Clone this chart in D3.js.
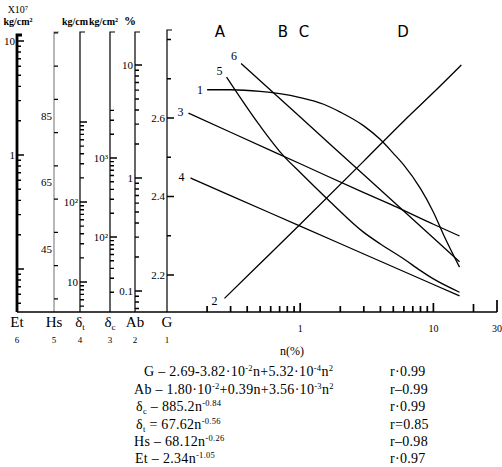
<!DOCTYPE html>
<html>
<head>
<meta charset="utf-8">
<script src="https://cdn.jsdelivr.net/npm/d3@7"></script>
<style>
  body { margin: 0; background: #fff; }
  svg { display: block; font-family: "Liberation Serif", "DejaVu Serif", serif; }
</style>
</head>
<body>
<svg id="chart" width="502" height="467"></svg>
<script>
// values (n in %)
const nG    = [0.2, 0.3, 0.5, 0.7, 1, 1.5, 2, 3, 4, 5, 6, 8, 10, 12, 15.7];
const gVal  = [2.672, 2.672, 2.668, 2.662, 2.652, 2.635, 2.615, 2.58, 2.545, 2.51, 2.48, 2.42, 2.36, 2.30, 2.22];
const nAb   = [0.27, 0.5, 1, 3, 6, 10, 16.2];
const abVal = [0.086, 0.175, 0.39, 1.41, 3.2, 5.7, 10];
const nDc   = [0.145, 0.3, 1, 3, 5, 10, 15.7];
const dcVal = [3700, 2120, 845, 365, 250, 145, 103];
const nDt   = [0.15, 0.3, 1, 3, 10, 15.7];
const dtVal = [200, 120, 50, 22.4, 9.3, 6.7];
const nHs   = [0.28, 0.5, 0.75, 1, 1.7, 3, 4, 6, 8, 10, 15.7];
const hsVal = [96.7, 82, 73, 68, 59, 50, 46.5, 42, 38.5, 36, 32];
const nEt   = [0.36, 1, 3, 10, 15.7];
const etVal = [6.35, 2.15, 0.67, 0.187, 0.116];

const axisNames = ["Et", "Hs", "δt", "δc", "Ab", "G"];
const axisNums  = ["6", "5", "4", "3", "2", "1"];
const etLabels = [1, 10];
const hsLabels = [45, 65, 85];
const dtLabels = [10, 100];
const dcLabels = [100, 1000];
const abLabels = [0.1, 1, 10];
const gLabels  = [2.2, 2.4, 2.6];
const xTicks   = [0.2,0.3,0.4,0.5,0.6,0.7,0.8,0.9,1,2,3,4,5,6,7,8,9,10,20,30];
const xLabels  = [1, 10, 30];
const zones    = ["A", "B", "C", "D"];

const svg = d3.select("#chart");
const base = 312;

// x: log n(%) from 0.1 (G axis) to 30
const x = d3.scaleLog().domain([0.1, 30]).range([167, 497]);

// build a scale from two read-off reference points, stretched to the axis length
function fitScale(kind, v1, y1, v2, y2, top) {
  const s = (kind === "log" ? d3.scaleLog() : d3.scaleLinear()).domain([v1, v2]).range([y1, y2]);
  return s.copy().domain([s.invert(base), s.invert(top)]).range([base, top]);
}
const yEt = fitScale("log", 1, 155, 10, 41, 35);
const yHs = fitScale("lin", 45, 249, 85, 116, 32);
const yDt = fitScale("log", 10, 282, 100, 202, 32);
const yDc = fitScale("log", 100, 237, 1000, 158, 32);
const yAb = fitScale("log", 0.1, 291, 10, 65, 32);
const yG  = fitScale("lin", 2.2, 275, 2.6, 118, 30);

function logTicks(s) {
  const [a, b] = s.domain(), out = [];
  for (let e = Math.floor(Math.log10(a)); e <= Math.ceil(Math.log10(b)); e++)
    for (let m = 1; m <= 9; m++) {
      const v = +(m * Math.pow(10, e)).toPrecision(3);
      if (v >= a && v <= b) out.push(v);
    }
  return out;
}
function linTicks(s, step) {
  const [a, b] = s.domain(), out = [];
  for (let v = Math.ceil(a / step) * step; v <= b; v += step) out.push(+v.toFixed(3));
  return out;
}
const isDecade = d => Math.abs(Math.log10(d) - Math.round(Math.log10(d))) < 1e-6;
const supFmt = d => d === 100 ? "10²" : d === 1000 ? "10³" : String(d);

const axes = [
  {x: 17,  s: yEt, ticks: logTicks(yEt), labels: etLabels, major: isDecade, w: 2.8, fmt: String},
  {x: 54,  s: yHs, ticks: linTicks(yHs, 10), labels: hsLabels, major: d => hsLabels.includes(d), w: 1.2, color: "#888", fmt: String},
  {x: 80,  s: yDt, ticks: logTicks(yDt).filter(d => d <= 1000), labels: dtLabels, major: isDecade, w: 1.2, fmt: supFmt},
  {x: 110, s: yDc, ticks: logTicks(yDc).filter(d => d <= 4000), labels: dcLabels, major: isDecade, w: 1.2, fmt: supFmt},
  {x: 135, s: yAb, ticks: logTicks(yAb), labels: abLabels, major: isDecade, w: 1.2, fmt: String},
  {x: 167, s: yG,  ticks: linTicks(yG, 0.1), labels: gLabels, major: d => gLabels.includes(d), w: 1.2, fmt: String}
];

axes.forEach((a, i) => {
  const g = svg.append("g");
  const [y0, y1] = a.s.range();
  // axis line with a small cap at the top
  g.append("path").attr("d", `M${a.x},${y0}V${y1}h5`)
    .attr("fill", "none").attr("stroke", a.color || "#000").attr("stroke-width", a.w);
  // ticks pointing right, longer at labelled values
  g.append("path")
    .attr("d", a.ticks.map(d => `M${a.x},${a.s(d).toFixed(1)}h${a.major(d) ? 7 : 4}`).join(""))
    .attr("fill", "none").attr("stroke", "#000").attr("stroke-width", 1.4);
  g.selectAll("text").data(a.labels).join("text")
    .attr("x", a.x - 2).attr("y", d => a.s(d)).attr("dy", "0.35em")
    .attr("text-anchor", "end").attr("font-size", 11).text(a.fmt);

  const nm = svg.append("text").attr("x", a.x).attr("y", 327).attr("text-anchor", "middle").attr("font-size", 15);
  if (axisNames[i].startsWith("δ")) {
    nm.append("tspan").text("δ");
    nm.append("tspan").attr("font-size", 9).attr("dy", 3).text(axisNames[i].slice(1));
  } else nm.text(axisNames[i]);
  svg.append("text").attr("x", a.x).attr("y", 343).attr("text-anchor", "middle")
    .attr("font-size", 9).text(axisNums[i]);
});

// headers over left axes
svg.append("text").attr("x", 18).attr("y", 13).attr("text-anchor", "middle").attr("font-size", 10).text("X10⁷");
svg.append("text").attr("x", 18).attr("y", 25).attr("text-anchor", "middle").attr("font-size", 10).attr("font-weight", "bold").text("kg/cm²");
svg.append("text").attr("x", 62).attr("y", 25).attr("font-size", 10).attr("font-weight", "bold").text("kg/cm");
svg.append("text").attr("x", 89).attr("y", 25).attr("font-size", 10).attr("font-weight", "bold").text("kg/cm²");
svg.append("text").attr("x", 124).attr("y", 25).attr("font-size", 12).attr("font-weight", "bold").text("%");

// baseline and n axis
svg.append("line").attr("x1", 17).attr("x2", 497).attr("y1", base).attr("y2", base)
  .attr("stroke", "#000").attr("stroke-width", 1.6);
svg.append("path")
  .attr("d", xTicks.map(d => `M${x(d).toFixed(1)},${base}v-${d === 30 ? 12 : d === 20 ? 8 : isDecade(d) ? 9 : 6}`).join(""))
  .attr("fill", "none").attr("stroke", "#000").attr("stroke-width", 1.7);
svg.selectAll(".xlab").data(xLabels).join("text").attr("class", "xlab")
  .attr("x", d => x(d)).attr("y", 332).attr("text-anchor", "middle").attr("font-size", 10).text(d => d);
svg.append("text").attr("x", 292).attr("y", 355).attr("text-anchor", "middle").attr("font-size", 12).text("n(%)");

// zone letters
svg.selectAll(".zone").data(zones).join("text").attr("class", "zone")
  .attr("x", (d, i) => [220, 283, 304, 403][i]).attr("y", 37)
  .attr("text-anchor", "middle").attr("font-family", "DejaVu Sans, sans-serif")
  .attr("font-size", 15).text(d => d);

// curves
const series = [
  {id: "1", n: nG,  v: gVal,  y: yG,  dx: -4, dy: 4},
  {id: "2", n: nAb, v: abVal, y: yAb, dx: -7, dy: 7},
  {id: "3", n: nDc, v: dcVal, y: yDc, dx: -5, dy: 3},
  {id: "4", n: nDt, v: dtVal, y: yDt, dx: -6, dy: 3},
  {id: "5", n: nHs, v: hsVal, y: yHs, dx: -4, dy: -2},
  {id: "6", n: nEt, v: etVal, y: yEt, dx: -4, dy: -3}
];
series.forEach(s => {
  const pts = s.n.map((n, i) => [x(n), s.y(s.v[i])]);
  svg.append("path").attr("d", d3.line().curve(d3.curveMonotoneX)(pts))
    .attr("fill", "none").attr("stroke", "#000").attr("stroke-width", 1.3);
  svg.append("text").attr("x", pts[0][0] + s.dx).attr("y", pts[0][1] + s.dy)
    .attr("text-anchor", "end").attr("font-size", 12).text(s.id);
});

// fitted equations
const eqs = [
  {x: 144, parts: [["G – 2.69-3.82·10"], ["-2", "sup"], ["n+5.32·10"], ["-4", "sup"], ["n"], ["2", "sup"]], r: "r·0.99"},
  {x: 134, parts: [["Ab – 1.80·10"], ["-2", "sup"], ["+0.39n+3.56·10"], ["-3", "sup"], ["n"], ["2", "sup"]], r: "r–0.99"},
  {x: 136, parts: [["δ"], ["c", "sub"], [" – 885.2n"], ["-0.84", "sup"]], r: "r·0.99"},
  {x: 136, parts: [["δ"], ["t", "sub"], [" = 67.62n"], ["-0.56", "sup"]], r: "r=0.85"},
  {x: 134, parts: [["Hs – 68.12n"], ["-0.26", "sup"]], r: "r–0.98"},
  {x: 135, parts: [["Et – 2.34n"], ["-1.05", "sup"]], r: "r·0.97"}
];
const eqY = [376, 393.5, 411, 428.5, 446, 463];
eqs.forEach((e, i) => {
  const t = svg.append("text").attr("x", e.x).attr("y", eqY[i]).attr("font-size", 14).attr("letter-spacing", 0.3);
  let shift = 0;
  e.parts.forEach(([txt, kind]) => {
    const target = kind === "sup" ? -5 : kind === "sub" ? 3 : 0;
    t.append("tspan").attr("dy", target - shift).attr("font-size", kind ? 8.5 : 14).text(txt);
    shift = target;
  });
  svg.append("text").attr("x", 390).attr("y", eqY[i]).attr("font-size", 14).attr("letter-spacing", 0.3).text(e.r);
});
</script>
</body>
</html>
